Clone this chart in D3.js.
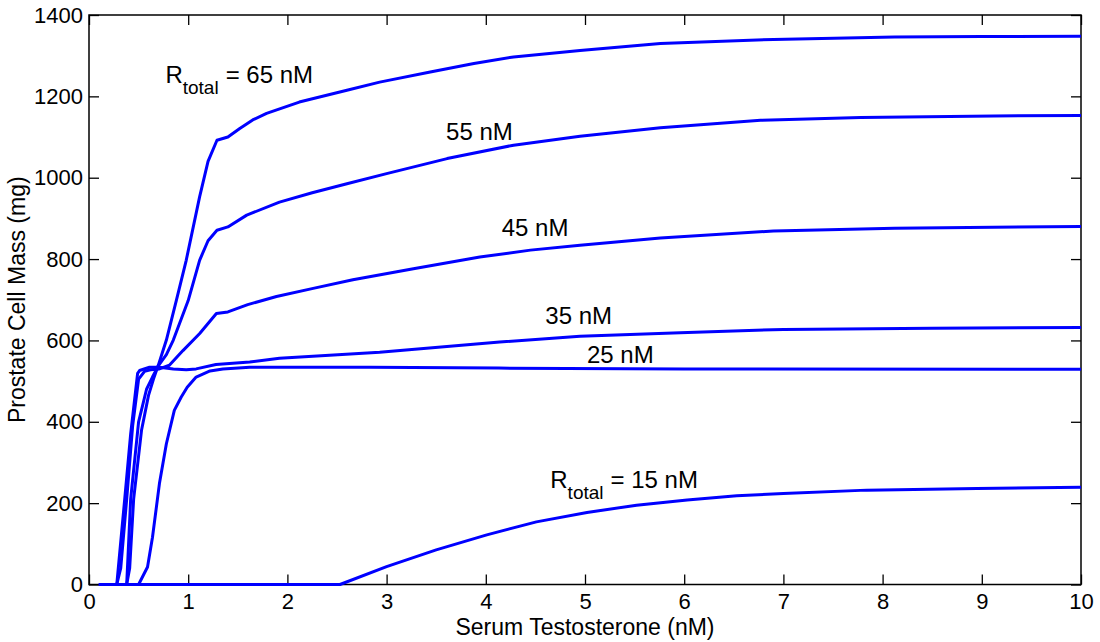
<!DOCTYPE html>
<meta charset="utf-8">
<script src="https://cdnjs.cloudflare.com/ajax/libs/d3/7.8.5/d3.min.js"></script>
<style>
body { margin: 0; background: #fff; }
text { font-family: "Liberation Sans", Arial, sans-serif; fill: #000; }
</style>
<body>
<script>
// curve data (x = serum testosterone nM, y = cell mass mg)
var r65x = [0.1, 0.38, 0.41, 0.45, 0.53, 0.6, 0.65, 0.7, 0.78, 0.88, 0.98, 1.115, 1.2, 1.29, 1.4, 1.52, 1.65, 1.79, 2.12, 2.6, 2.93, 3.44, 3.88, 4.28, 4.95, 5.76, 6.9, 8.12, 9.0, 10];
var r65y = [0, 0, 40, 210, 380, 465, 505, 540, 601, 698, 797, 953, 1040, 1092, 1100, 1121, 1142, 1158, 1186, 1215, 1235, 1260, 1281, 1297, 1313, 1330, 1340, 1346, 1347, 1348];

var r55x = [0.1, 0.38, 0.42, 0.5, 0.58, 0.64, 0.7, 0.78, 0.85, 1.0, 1.115, 1.2, 1.29, 1.4, 1.59, 1.92, 2.25, 2.6, 3.0, 3.61, 4.28, 4.95, 5.76, 6.77, 7.78, 9.12, 10];
var r55y = [0, 0, 210, 400, 480, 510, 538, 565, 601, 698, 797, 845, 871, 879, 908, 940, 963, 985, 1010, 1047, 1080, 1102, 1123, 1141, 1148, 1152, 1153];

var r45x = [0.1, 0.28, 0.32, 0.38, 0.44, 0.5, 0.56, 0.62, 0.71, 0.81, 0.947, 1.116, 1.284, 1.4, 1.6, 1.89, 2.26, 2.66, 3.27, 3.94, 4.45, 4.95, 5.76, 6.9, 8.12, 10];
var r45y = [0, 0, 40, 210, 390, 505, 524, 528, 530, 539, 575, 617, 666, 670, 688, 708, 728, 749, 776, 805, 822, 834, 852, 869, 876, 880];

var r35x = [0.1, 0.28, 0.36, 0.42, 0.49, 0.51, 0.61, 0.71, 0.85, 0.98, 1.08, 1.28, 1.62, 1.92, 2.93, 4.14, 4.95, 5.96, 7.0, 8.5, 10];
var r35y = [0, 0, 210, 370, 519, 526, 534, 534, 530, 528, 530, 541, 547, 556, 571, 596, 610, 619, 627, 630, 632];

var r25x = [0.1, 0.5, 0.59, 0.64, 0.71, 0.78, 0.86, 0.93, 0.99, 1.08, 1.22, 1.35, 1.62, 2.83, 4.13, 6.0, 10];
var r25y = [0, 0, 43, 116, 248, 346, 428, 461, 485, 510, 525, 530, 534, 534, 532, 530, 529];

var r15x = [0.1, 2.53, 3.0, 3.5, 4.01, 4.51, 5.02, 5.52, 6.03, 6.53, 7.0, 7.84, 8.95, 10];
var r15y = [0, 0, 44, 85, 122, 154, 177, 195, 208, 218, 224, 232, 236, 239];

var xTicks = [0, 1, 2, 3, 4, 5, 6, 7, 8, 9, 10];
var yTicks = [0, 200, 400, 600, 800, 1000, 1200, 1400];

// labels: main text, subscript, rest, anchor point in data units
var labelText = ["R", "55 nM", "45 nM", "35 nM", "25 nM", "R"];
var labelSub = ["total", "", "", "", "", "total"];
var labelRest = ["= 65 nM", "", "", "", "", "= 15 nM"];
var labelX = [0.77, 3.6, 4.16, 4.6, 5.02, 4.65];
var labelY = [1232, 1093, 857, 640, 545, 238];

var w = 1100, h = 642;
var pLeft = 89, pRight = 1081, pTop = 15, pBottom = 584.5;

var svg = d3.select("body").append("svg")
  .attr("width", w)
  .attr("height", h);

var xScale = d3.scaleLinear().domain([0, 10]).range([pLeft, pRight]);
var yScale = d3.scaleLinear().domain([0, 1400]).range([pBottom, pTop]);

// frame
svg.append("rect")
  .attr("x", pLeft).attr("y", pTop)
  .attr("width", pRight - pLeft).attr("height", pBottom - pTop)
  .attr("fill", "none").attr("stroke", "#000").attr("stroke-width", 1.5);

// axes, ticks pointing inward
var xAxis = d3.axisBottom(xScale).tickValues(xTicks).tickSizeInner(-10).tickSizeOuter(0).tickPadding(9).tickFormat(d3.format("d"));
var yAxis = d3.axisLeft(yScale).tickValues(yTicks).tickSizeInner(-10).tickSizeOuter(0).tickPadding(6).tickFormat(d3.format("d"));

svg.append("g").attr("transform", "translate(0," + pBottom + ")").call(xAxis);
svg.append("g").attr("transform", "translate(" + pLeft + ",0)").call(yAxis);

svg.append("g").attr("transform", "translate(0," + pTop + ")")
  .call(d3.axisTop(xScale).tickValues(xTicks).tickSizeInner(-10).tickSizeOuter(0).tickFormat(""));
svg.append("g").attr("transform", "translate(" + pRight + ",0)")
  .call(d3.axisRight(yScale).tickValues(yTicks).tickSizeInner(-10).tickSizeOuter(0).tickFormat(""));

svg.selectAll(".domain").remove();
svg.selectAll(".tick line").attr("stroke", "#000").attr("stroke-width", 1.3);
svg.selectAll(".tick text").style("font-size", "22px").attr("font-family", null).attr("fill", "#000");

// curves
var series = [[r65x, r65y], [r55x, r55y], [r45x, r45y], [r35x, r35y], [r25x, r25y], [r15x, r15y]];
var line = d3.line()
  .x(function(d){ return xScale(d[0]); })
  .y(function(d){ return yScale(d[1]); });

svg.selectAll(".curve").data(series).enter().append("path")
  .attr("class", "curve")
  .attr("d", function(s){ return line(d3.zip(s[0], s[1])); })
  .attr("fill", "none")
  .attr("stroke", "#0000ff")
  .attr("stroke-width", 3)
  .attr("stroke-linejoin", "round");

// curve labels
labelText.forEach(function(t, i){
  var txt = svg.append("text")
    .attr("x", xScale(labelX[i]))
    .attr("y", yScale(labelY[i]))
    .style("font-size", "24px");
  txt.append("tspan").text(t);
  if (labelSub[i]) {
    txt.append("tspan").attr("dy", 11).style("font-size", "19px").text(labelSub[i]);
    txt.append("tspan").attr("dy", -11).attr("dx", 7).text(labelRest[i]);
  }
});

// axis titles
svg.append("text")
  .attr("x", (pLeft + pRight) / 2)
  .attr("y", 635)
  .attr("text-anchor", "middle")
  .style("font-size", "23px")
  .text("Serum Testosterone (nM)");

svg.append("text")
  .attr("transform", "rotate(-90)")
  .attr("x", -(pTop + pBottom) / 2)
  .attr("y", 25)
  .attr("text-anchor", "middle")
  .style("font-size", "23px")
  .text("Prostate Cell Mass (mg)");
</script>
</body>
</html>
